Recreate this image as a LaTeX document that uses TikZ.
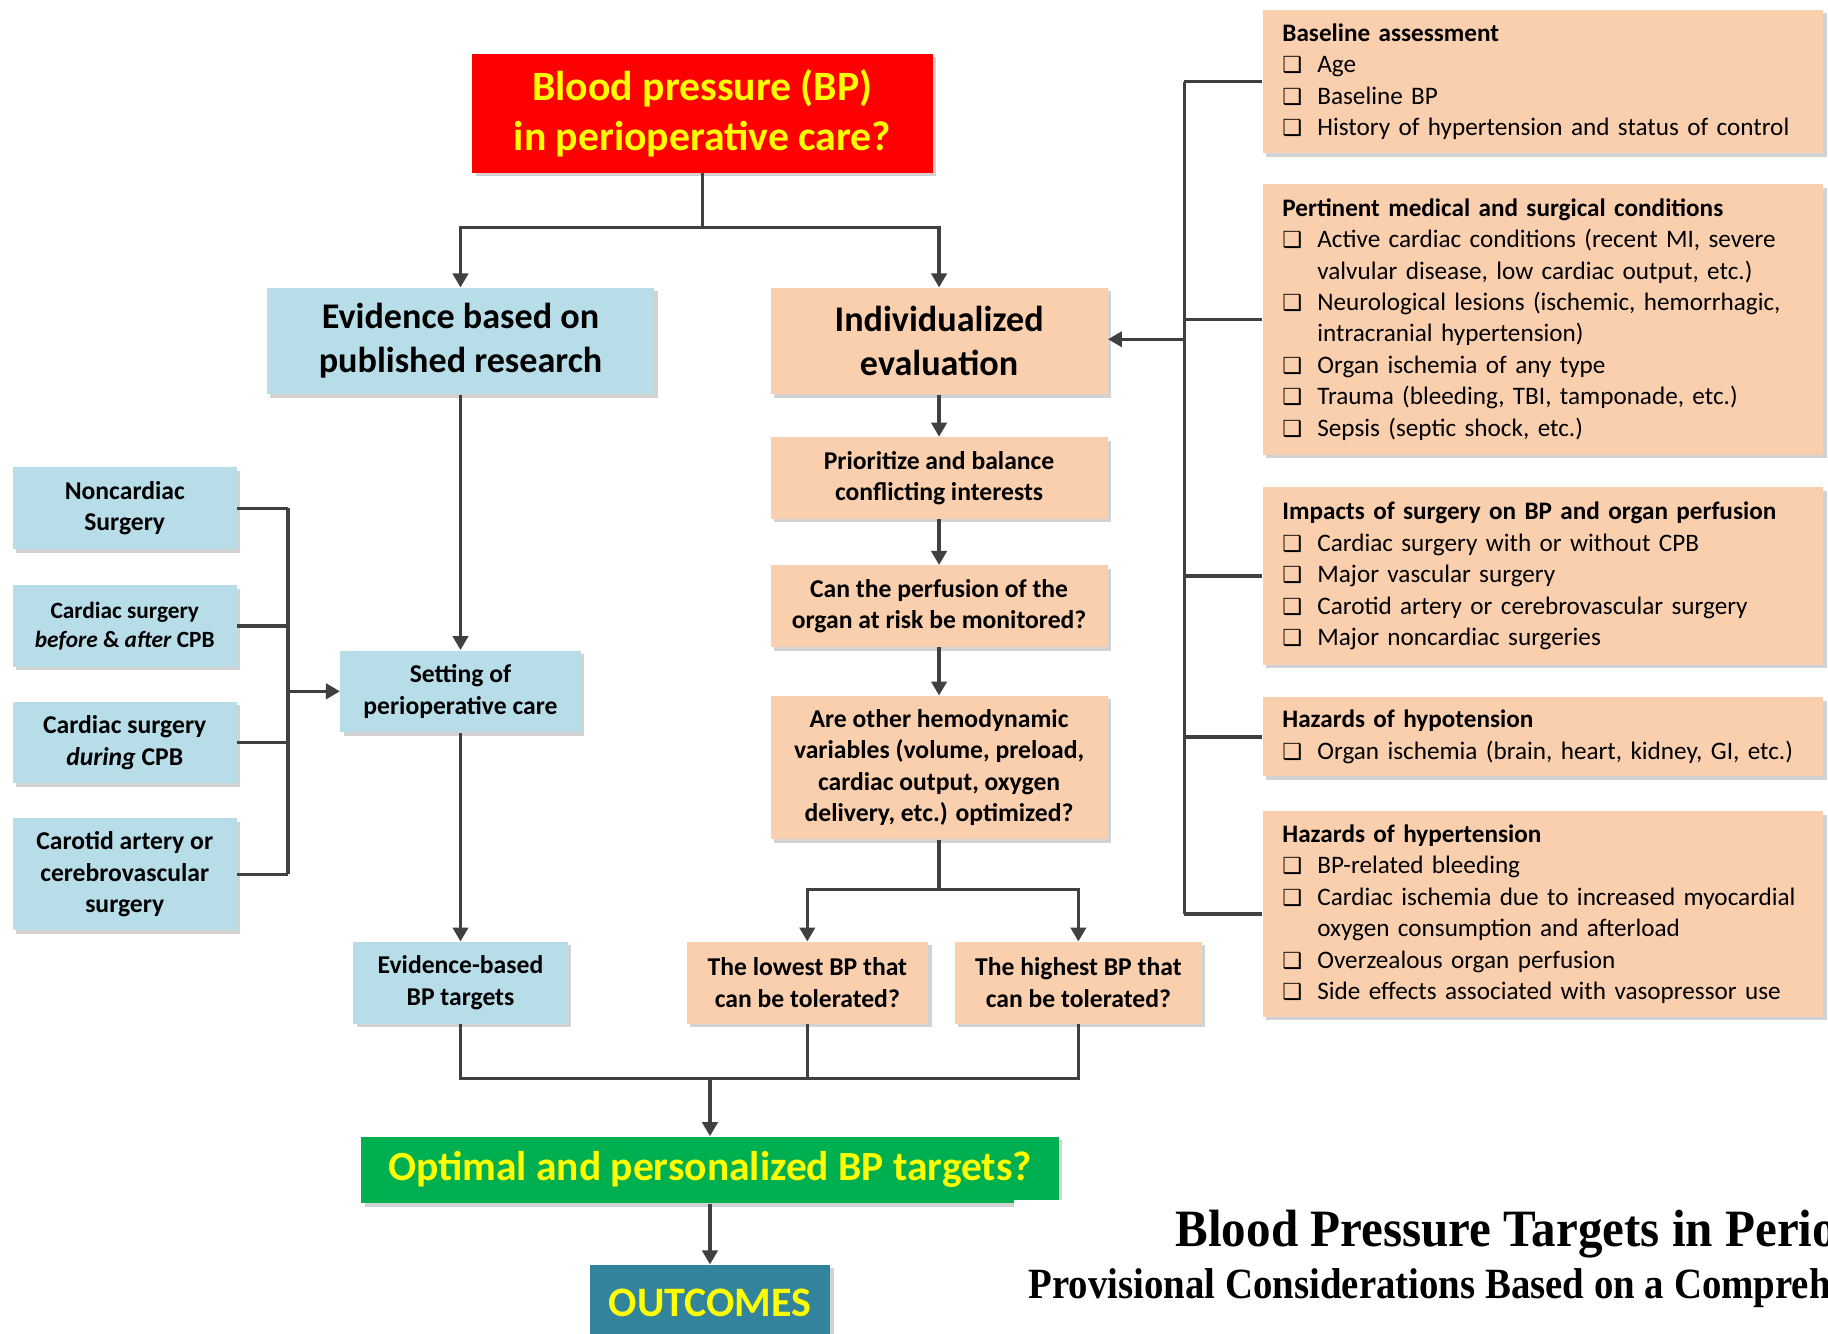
\documentclass[tikz,border=0pt]{standalone}
\usepackage{fontspec}
\setmainfont{Carlito}
\newfontfamily\boxfont{DejaVu Sans}
\newfontfamily\titlefont[FakeStretch=0.935]{Liberation Serif}
\newfontfamily\subtitlefont[FakeStretch=0.9]{Liberation Serif}
\usetikzlibrary{arrows.meta,shadows}

\definecolor{bpred}{HTML}{FF0000}
\definecolor{bpblue}{HTML}{B7DDE8}
\definecolor{bppeach}{HTML}{F9CFAE}
\definecolor{bpgreen}{HTML}{00B050}
\definecolor{bpteal}{HTML}{31849B}
\definecolor{bpyellow}{HTML}{FFFF00}
\definecolor{bpline}{HTML}{404040}

\newcommand{\ck}{\makebox[15pt][l]{\boxfont\fontsize{9.5}{9.5}\selectfont ❑}}
\newcommand{\cn}{\hspace*{15pt}}

\begin{document}
\begin{tikzpicture}[x=0.5pt,y=-0.5pt,
    card/.style={rectangle, inner sep=0pt, align=center, font=\bfseries\fontsize{11}{13.5}\selectfont,
      drop shadow={shadow xshift=1.5pt, shadow yshift=-1.5pt, opacity=0.35}},
    bluecard/.style={card, fill=bpblue},
    peachcard/.style={card, fill=bppeach},
    listcard/.style={peachcard, align=left, inner xsep=8.5pt, text width=223.5pt, minimum width=240.5pt,
      font=\fontsize{10.8}{13.5}\selectfont},
    line/.style={draw=bpline, line width=1.5pt},
    arr/.style={line, -{Triangle[length=6pt,width=6.5pt]}}]
  \useasboundingbox (0,0) rectangle (1568,1144);
  \clip (0,0) rectangle (1568,1144);
  \fill[white] (0,0) rectangle (1568,1144);

  % main question
  \node[card, fill=bpred, text=bpyellow, minimum width=197.5pt, minimum height=51pt,
    font=\bfseries\fontsize{17.9}{21.5}\selectfont] (q) at (602.5,97) {Blood pressure (BP)\\in perioperative care?};

  % two branches
  \node[bluecard, minimum width=166pt, minimum height=45.5pt, font=\bfseries\fontsize{15.5}{19}\selectfont]
    (evid) at (395,292.5) {Evidence based on\\published research};
  \node[peachcard, minimum width=144.5pt, minimum height=45.5pt, font=\bfseries\fontsize{15.5}{19}\selectfont]
    (indiv) at (805.5,292.5) {Individualized\\evaluation};

  \node[bluecard, minimum width=103pt, minimum height=35pt] (setting) at (395,593) {Setting of\\perioperative care};
  \node[bluecard, minimum width=92pt, minimum height=35pt] (ebtarg) at (395,843) {Evidence-based\\BP targets};

  \node[bluecard, minimum width=96pt, minimum height=35pt] (noncard) at (107,436) {Noncardiac\\Surgery};
  \node[bluecard, minimum width=96pt, minimum height=35pt, font=\bfseries\fontsize{10}{12.5}\selectfont]
    (cardba) at (107,537) {Cardiac surgery\\\textit{before} \& \textit{after} CPB};
  \node[bluecard, minimum width=96pt, minimum height=35pt] (carddur) at (107,637) {Cardiac surgery\\\textit{during} CPB};
  \node[bluecard, minimum width=96pt, minimum height=48pt] (carotid) at (107,750) {Carotid artery or\\cerebrovascular\\surgery};

  \node[peachcard, minimum width=144.5pt, minimum height=35pt] (prio) at (805.5,410) {Prioritize and balance\\conflicting interests};
  \node[peachcard, minimum width=144.5pt, minimum height=35pt] (monit) at (805.5,520) {Can the perfusion of the\\organ at risk be monitored?};
  \node[peachcard, minimum width=144.5pt, minimum height=61.5pt] (hemo) at (805.5,658.5)
    {Are other hemodynamic\\variables (volume, preload,\\cardiac output, oxygen\\delivery, etc.) optimized?};
  \node[peachcard, minimum width=103.5pt, minimum height=35pt] (lowest) at (692.5,843) {The lowest BP that\\can be tolerated?};
  \node[peachcard, minimum width=106pt, minimum height=35pt] (highest) at (925,843) {The highest BP that\\can be tolerated?};

  \node[card, fill=bpgreen, text=bpyellow, minimum width=299pt, minimum height=28.5pt,
    font=\bfseries\fontsize{17.8}{20}\selectfont] (optimal) at (609,1003.5) {Optimal and personalized BP targets?};
  \node[card, fill=bpteal, text=bpyellow, minimum width=103pt, minimum height=32.5pt,
    font=\bfseries\fontsize{18}{20}\selectfont] (outc) at (609,1117.5) {OUTCOMES};

  % checklists
  \node[listcard, minimum height=61.5pt] (base) at (1323.5,70)
    {\textbf{Baseline assessment}\\
     \ck Age\\
     \ck Baseline BP\\
     \ck History of hypertension and status of control};
  \node[listcard, minimum height=116pt] (pert) at (1323.5,274)
    {\textbf{Pertinent medical and surgical conditions}\\
     \ck Active cardiac conditions (recent MI, severe\\
     \cn valvular disease, low cardiac output, etc.)\\
     \ck Neurological lesions (ischemic, hemorrhagic,\\
     \cn intracranial hypertension)\\
     \ck Organ ischemia of any type\\
     \ck Trauma (bleeding, TBI, tamponade, etc.)\\
     \ck Sepsis (septic shock, etc.)};
  \node[listcard, minimum height=76pt] (impact) at (1323.5,494)
    {\textbf{Impacts of surgery on BP and organ perfusion}\\
     \ck Cardiac surgery with or without CPB\\
     \ck Major vascular surgery\\
     \ck Carotid artery or cerebrovascular surgery\\
     \ck Major noncardiac surgeries};
  \node[listcard, minimum height=34pt] (hypo) at (1323.5,632)
    {\textbf{Hazards of hypotension}\\
     \ck Organ ischemia (brain, heart, kidney, GI, etc.)};
  \node[listcard, minimum height=88pt] (hyper) at (1323.5,784)
    {\textbf{Hazards of hypertension}\\
     \ck BP-related bleeding\\
     \ck Cardiac ischemia due to increased myocardial\\
     \cn oxygen consumption and afterload\\
     \ck Overzealous organ perfusion\\
     \ck Side effects associated with vasopressor use};

  \coordinate (tsplit) at (602.5,195);
  \coordinate (hsplit) at (805.5,763);
  \coordinate (bjoin) at (609,925);
  \coordinate (lbus) at (247,593);
  \coordinate (rbus) at (1016,291);

  % connectors
  \draw[line] (q.south) -- (tsplit);
  \draw[arr] (tsplit) -| (evid.north);
  \draw[arr] (tsplit) -| (indiv.north);
  \draw[arr] (evid.south) -- (setting.north);
  \draw[arr] (setting.south) -- (ebtarg.north);
  \draw[arr] (indiv.south) -- (prio.north);
  \draw[arr] (prio.south) -- (monit.north);
  \draw[arr] (monit.south) -- (hemo.north);
  \draw[line] (hemo.south) -- (hsplit);
  \draw[arr] (hsplit) -| (lowest.north);
  \draw[arr] (hsplit) -| (highest.north);
  \draw[line] (ebtarg.south) |- (bjoin);
  \draw[line] (highest.south) |- (bjoin);
  \draw[line] (lowest.south) -- (lowest.south |- bjoin);
  \draw[arr] (bjoin) -- (optimal.north);
  \draw[arr] (optimal.south) -- (outc.north);

  \foreach \n in {noncard,cardba,carddur,carotid}
    \draw[line] (\n.east) -- (\n.east -| lbus);
  \draw[line] (noncard.east -| lbus) -- (carotid.east -| lbus);
  \draw[arr] (lbus) -- (setting.west);

  \foreach \n in {base,pert,impact,hypo,hyper}
    \draw[line] (\n.west) -- (\n.west -| rbus);
  \draw[line] (base.west -| rbus) -- (hyper.west -| rbus);
  \draw[arr] (rbus) -- (rbus -| indiv.east);

  % article title strip
  \fill[white] (870,1029) rectangle (1568,1144);
  \node[anchor=base west, inner sep=0pt, font=\titlefont\bfseries\fontsize{22.5}{22.5}\selectfont]
    (ttl) at (1008,1069) {Blood Pressure Targets in Perioperative Care};
  \node[anchor=base west, inner sep=0pt, font=\subtitlefont\bfseries\fontsize{18.5}{18.5}\selectfont]
    (sub) at (882,1114) {Provisional Considerations Based on a Comprehensive Literature Review};
\end{tikzpicture}
\end{document}
